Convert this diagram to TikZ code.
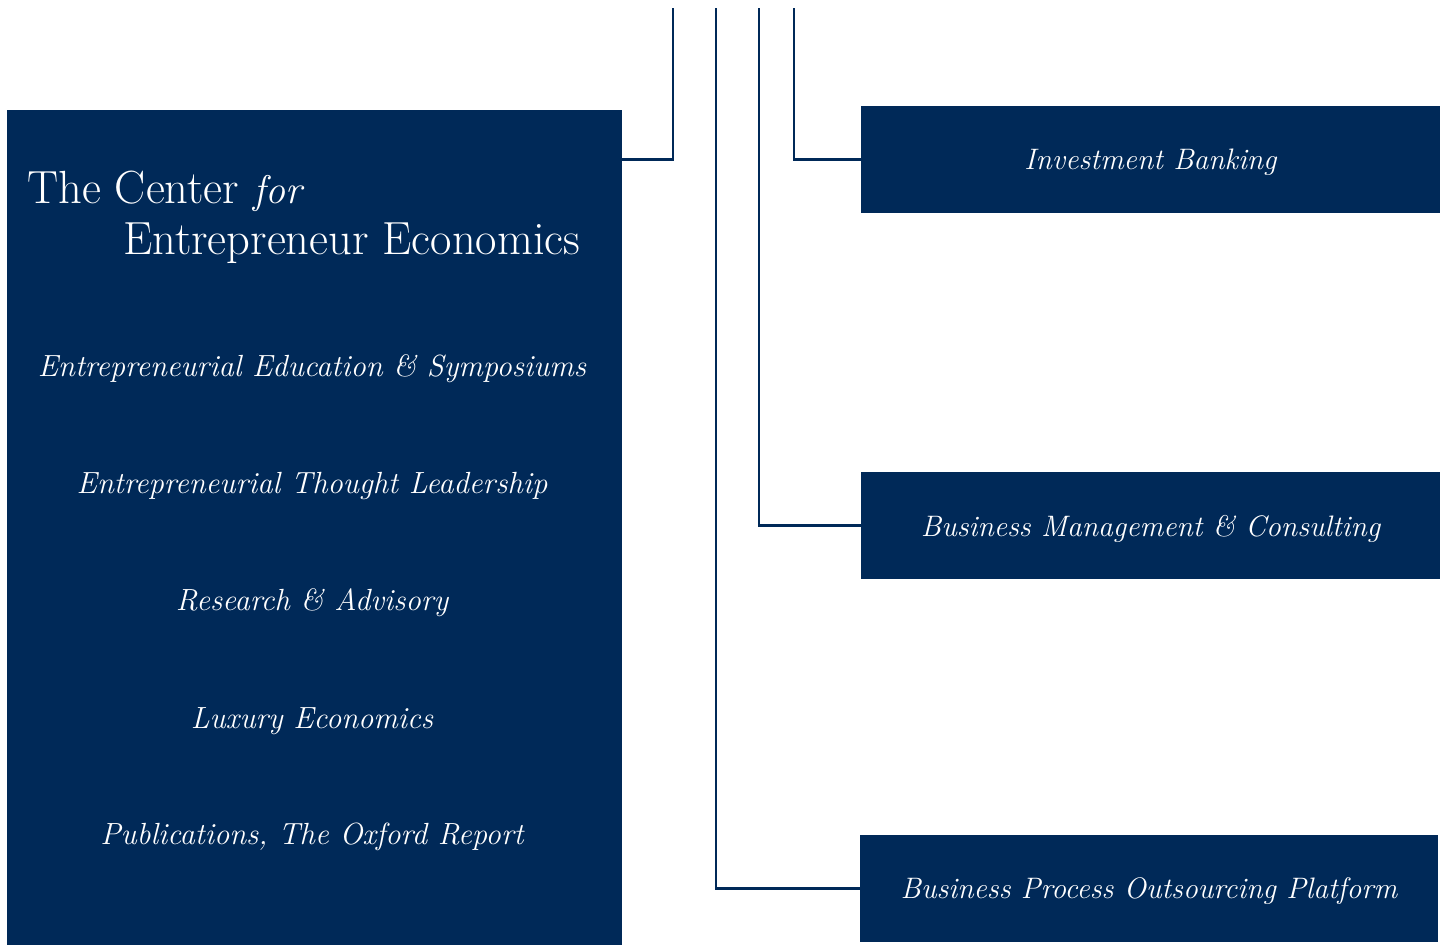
\documentclass[tikz,border=0pt]{standalone}
\usetikzlibrary{calc}
\definecolor{navy}{RGB}{0,41,88}
\begin{document}
\begin{tikzpicture}[x=1pt,y=-1pt,
  box/.style={fill=navy,draw=none,anchor=north west,inner sep=0pt,outer sep=0pt},
  item/.style={text=white,font=\fontsize{30.6}{33}\selectfont\itshape,inner sep=0pt},
  ritem/.style={item,font=\fontsize{29.6}{33}\selectfont\itshape,yshift=-3pt},
  title/.style={text=white,anchor=base west,inner sep=0pt,font=\fontsize{46.5}{50}\selectfont},
  conn/.style={draw=navy,line width=2.4pt}]
\useasboundingbox (0,0) rectangle (1445,945);
\node[box,minimum width=615pt,minimum height=835pt] (lbox) at (7,110) {};
\node[box,minimum width=579pt,minimum height=107pt] (ib) at (861,106) {};
\node[box,minimum width=579pt,minimum height=107pt] (bm) at (861,472) {};
\node[box,minimum width=578pt,minimum height=107pt] (bpo) at (860,835) {};
\node[title] (t1) at (27,203) {The Center\hspace{0.3em}{\fontsize{40}{44}\selectfont\itshape for}};
\node[title] (t2) at (123,254) {Entrepreneur Economics};
\node[item] (i1) at (312,369) {Entrepreneurial Education \& Symposiums};
\node[item] (i2) at (312,486) {Entrepreneurial Thought Leadership};
\node[item] (i3) at (312,603) {Research \& Advisory};
\node[item] (i4) at (312,721) {Luxury Economics};
\node[item] (i5) at (312,837) {Publications, The Oxford Report};
\node[ritem] (l1) at (ib.center) {Investment Banking};
\node[ritem] (l2) at (bm.center) {Business Management \& Consulting};
\node[ritem] (l3) at (bpo.center) {Business Process Outsourcing Platform};
\coordinate (c1) at (673,8);
\coordinate (c2) at (716,8);
\coordinate (c3) at (759,8);
\coordinate (c4) at (794,8);
\draw[conn] (c1) |- (lbox.east |- ib.west);
\draw[conn] (c2) |- (bpo.west);
\draw[conn] (c3) |- (bm.west);
\draw[conn] (c4) |- (ib.west);
\end{tikzpicture}
\end{document}
